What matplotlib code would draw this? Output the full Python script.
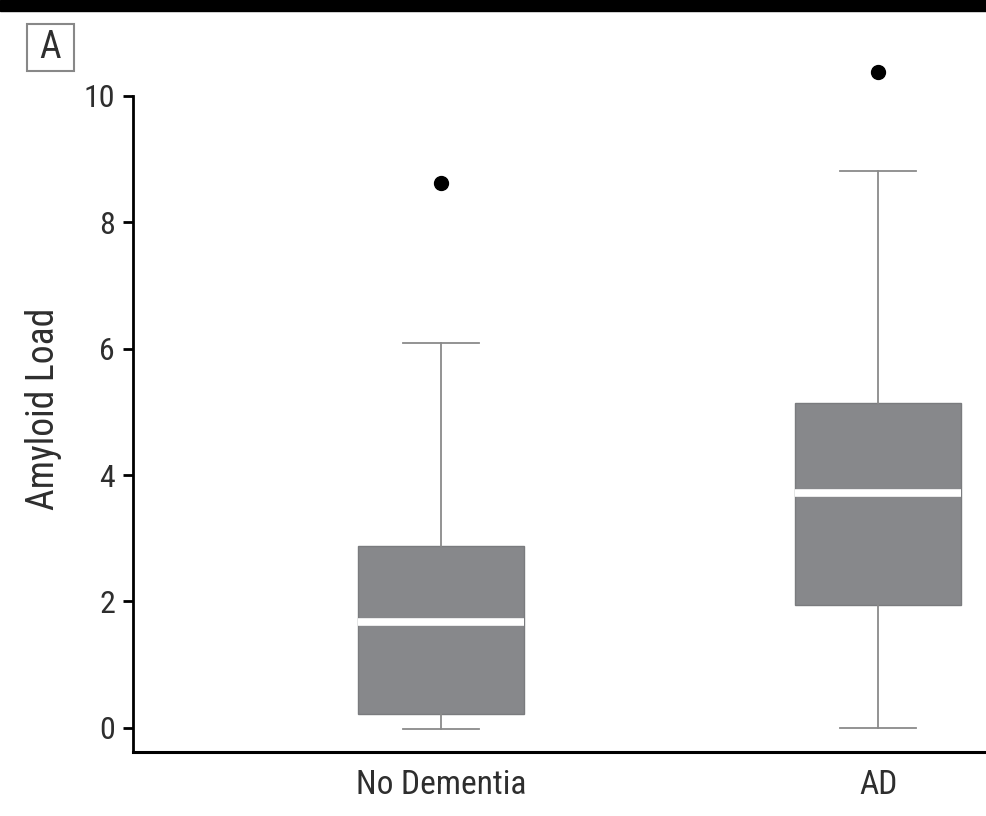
import matplotlib
matplotlib.use("Agg")
import matplotlib.pyplot as plt
from matplotlib.patches import Rectangle

categories = ["No Dementia", "AD"]
whisker_low = [-0.02, 0.0]
q1 = [0.22, 1.95]
median = [1.68, 3.72]
q3 = [2.88, 5.14]
whisker_high = [6.09, 8.81]
outliers = [[8.62], [10.38]]
yticks = [0, 2, 4, 6, 8, 10]

plt.rcParams['font.family'] = ['Roboto Condensed', 'Archivo Narrow', 'Barlow Condensed', 'DejaVu Sans']

W, H = 986, 816
fig = plt.figure(figsize=(W/100, H/100), dpi=100)
fig.patches.append(Rectangle((0, 1 - 11/H), 1, 11/H, transform=fig.transFigure,
                             color='black', zorder=10))

ax = fig.add_axes([133/W, (H-752)/H, (W-133)/W, 707/H])

stats = []
for i, c in enumerate(categories):
    stats.append(dict(label=c, whislo=whisker_low[i], q1=q1[i], med=median[i],
                      q3=q3[i], whishi=whisker_high[i], fliers=outliers[i]))

ax.bxp(stats, positions=[0, 1], widths=0.378, capwidths=0.172, patch_artist=True,
       boxprops=dict(facecolor='#87888b', edgecolor='#7a7b7e', linewidth=1),
       medianprops=dict(color='white', linewidth=5.5),
       whiskerprops=dict(color='#8a8a8a', linewidth=1.3),
       capprops=dict(color='#8a8a8a', linewidth=1.3),
       flierprops=dict(marker='o', markerfacecolor='black', markeredgecolor='black',
                       markersize=10))

ax.set_xlim(-0.705, 1.247)
ax.set_ylim(-0.38, 10.8)
ax.set_yticks(yticks)
ax.set_yticklabels([str(t) for t in yticks])
ax.spines['top'].set_visible(False)
ax.spines['right'].set_visible(False)
ax.spines['left'].set_bounds(-0.38, 10)
ax.spines['left'].set_linewidth(2)
ax.spines['bottom'].set_linewidth(2.2)
ax.tick_params(axis='y', length=7, width=2, labelsize=23, pad=6, colors='black',
               labelcolor='#2e2e2e')
ax.tick_params(axis='x', length=0, labelsize=24, pad=12, labelcolor='#2e2e2e')
ax.set_ylabel("Amyloid Load", fontsize=27, color='#2e2e2e')
ax.yaxis.set_label_coords((62 - 133)/853, (752 - 409)/707)

# panel label box
fig.patches.append(Rectangle((27/W, 1 - 71/H), 47/W, 47/H, transform=fig.transFigure,
                             facecolor='white', edgecolor='#888888', linewidth=1.5))
fig.text(50.5/W, 1 - 47.5/H, "A", fontsize=27, color='#2e2e2e', ha='center', va='center')

fig.savefig("out.png", dpi=100)
